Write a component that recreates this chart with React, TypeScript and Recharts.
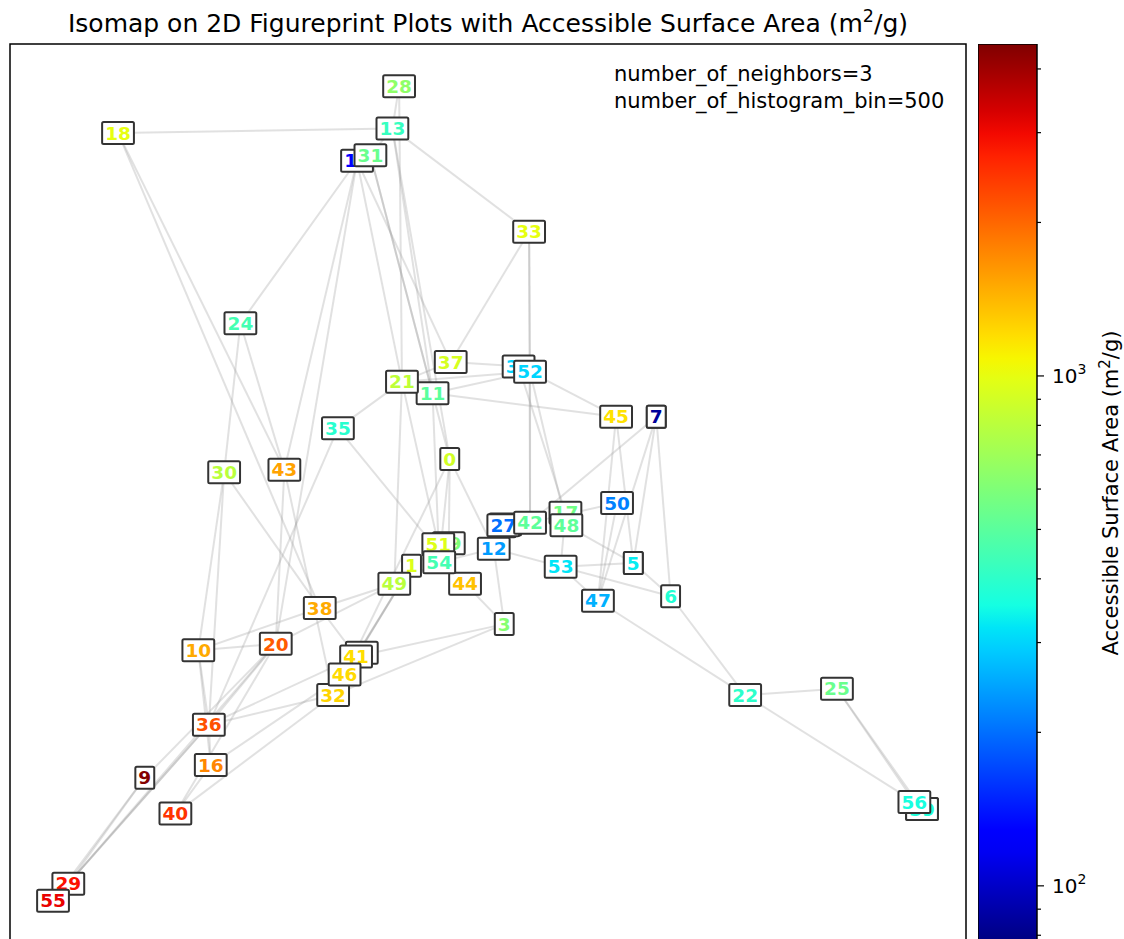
import React from "react";
import {
  ScatterChart,
  Scatter,
  XAxis,
  YAxis,
  ReferenceArea,
  ComposedChart,
  Bar,
} from "recharts";

// Isomap embedding coordinates, indexed by structure id (0..56)
const isoX = [
  46.0, 42.0, 67.6, 51.7, 65.2, 65.2, 69.1, 67.6, 51.9, 14.1, 19.7, 44.2, 50.6, 40.0, 36.3,
  51.8, 21.0, 58.1, 11.3, 45.9, 27.8, 41.0, 76.9, 36.8, 24.1, 86.5, 95.4, 51.6, 40.7, 6.1,
  22.4, 37.7, 33.8, 54.3, 53.2, 34.3, 20.8, 46.1, 32.4, 95.4, 17.3, 36.2, 54.4, 28.7, 47.6,
  63.4, 35.0, 61.5, 58.2, 40.2, 63.5, 44.8, 54.4, 57.6, 44.9, 4.5, 94.6,
];
const isoY = [
  53.8, 41.9, 58.5, 35.4, 42.2, 42.2, 38.5, 58.5, 46.3, 18.3, 32.5, 61.1, 43.8, 90.6, 87.0,
  46.5, 19.7, 47.8, 90.1, 44.4, 33.2, 62.4, 27.5, 32.2, 68.9, 28.2, 14.8, 46.4, 95.3, 6.5,
  52.3, 87.6, 27.5, 79.1, 64.1, 57.2, 24.2, 64.6, 37.2, 14.8, 14.3, 31.8, 46.7, 52.6, 39.9,
  58.5, 29.8, 38.0, 46.4, 39.9, 48.9, 44.3, 63.5, 41.8, 42.3, 4.6, 15.6,
];
// Accessible surface area (m2/g) per structure
const surfaceArea = [
  900, 950, 90, 620, 330, 330, 380, 85, 230, 4400, 1500, 500, 240, 420, 127,
  260, 1750, 560, 1000, 600, 2100, 820, 400, 1250, 450, 540, 340, 200, 650, 2900,
  800, 540, 1250, 1000, 300, 390, 2200, 920, 1500, 370, 2500, 1200, 510, 1550, 1350,
  1180, 1220, 260, 510, 800, 215, 960, 300, 320, 450, 3100, 360,
];

// neighbour graph edges (pairs of structure ids)
const edges: [number, number][] = [
  [18, 13], [18, 43], [18, 38], [28, 13], [28, 21], [13, 31], [13, 33], [13, 11], [13, 0],
  [14, 24], [14, 43], [14, 20], [14, 21], [14, 37], [31, 0], [31, 11], [33, 52], [33, 42],
  [33, 37], [24, 30], [24, 43], [37, 34], [37, 21], [21, 52], [21, 35], [21, 49], [21, 51],
  [11, 45], [11, 52], [11, 54], [52, 45], [52, 48], [52, 42], [34, 17], [45, 47], [45, 5],
  [7, 42], [7, 47], [7, 6], [35, 44], [35, 36], [0, 19], [0, 54], [0, 12], [0, 46],
  [30, 10], [30, 36], [30, 38], [43, 20], [43, 32], [50, 47], [50, 42], [27, 42], [42, 12],
  [12, 54], [12, 3], [12, 6], [48, 5], [17, 53], [1, 41], [1, 32], [1, 46], [1, 19],
  [49, 20], [49, 38], [54, 44], [54, 49], [53, 47], [53, 5], [5, 6], [6, 22], [47, 22],
  [22, 25], [22, 56], [25, 56], [25, 26], [44, 3], [3, 41], [3, 32], [38, 10], [38, 41],
  [10, 20], [10, 36], [10, 16], [20, 36], [20, 9], [20, 29], [20, 40], [41, 36], [46, 16],
  [32, 40], [32, 36], [36, 29], [36, 55], [9, 55], [9, 29], [40, 16], [16, 36], [56, 39],
  [4, 2], [8, 15], [26, 39],
];

const surfaceMin = 77.6;
const surfaceMax = 4477;
const colorbarTicks = [80, 90, 100, 200, 300, 400, 500, 600, 700, 800, 900, 1000, 2000, 3000, 4000];
const majorTicks: Record<number, string> = { 100: "2", 1000: "3" };

const FONT = "DejaVu Sans, sans-serif";

// matplotlib "jet" colormap
const jetRed = [[0, 0], [0.35, 0], [0.66, 1], [0.89, 1], [1, 0.5]];
const jetGreen = [[0, 0], [0.125, 0], [0.375, 1], [0.64, 1], [0.91, 0], [1, 0]];
const jetBlue = [[0, 0.5], [0.11, 1], [0.34, 1], [0.65, 0], [1, 0]];

const interp = (pts: number[][], t: number) => {
  for (let i = 1; i < pts.length; i++) {
    if (t <= pts[i][0]) {
      const [x0, y0] = pts[i - 1];
      const [x1, y1] = pts[i];
      return y0 + ((t - x0) / (x1 - x0)) * (y1 - y0);
    }
  }
  return pts[pts.length - 1][1];
};

const jet = (t: number) => {
  const c = Math.max(0, Math.min(1, t));
  const r = Math.round(interp(jetRed, c) * 255);
  const g = Math.round(interp(jetGreen, c) * 255);
  const b = Math.round(interp(jetBlue, c) * 255);
  return `rgb(${r},${g},${b})`;
};

const logMin = Math.log10(surfaceMin);
const logMax = Math.log10(surfaceMax);
const areaColor = (v: number) => jet((Math.log10(v) - logMin) / (logMax - logMin));

const nodes = isoX.map((x, id) => ({ id, x, y: isoY[id], asa: surfaceArea[id] }));

// id label in a white box, coloured by surface area
const LabelBox = (props: any) => {
  const { cx, cy, payload } = props;
  if (cx == null || cy == null) return <g />;
  const text = String(payload.id);
  const w = text.length * 12.9 + 6;
  const h = 22;
  return (
    <g>
      <rect
        x={cx - w / 2}
        y={cy - h / 2}
        width={w}
        height={h}
        rx={1.5}
        fill="#fff"
        stroke="#333"
        strokeWidth={2}
      />
      <text
        x={cx}
        y={cy + 6.7}
        textAnchor="middle"
        fontFamily={FONT}
        fontWeight="bold"
        fontSize={18.5}
        fill={areaColor(payload.asa)}
      >
        {text}
      </text>
    </g>
  );
};

const ColorbarTick = (props: any) => {
  const { x, y, payload } = props;
  const exp = majorTicks[payload.value];
  return (
    <g>
      <line x1={x} x2={x + (exp ? 7 : 4)} y1={y} y2={y} stroke="#000" strokeWidth={1.2} />
      {exp && (
        <text x={x + 15} y={y + 7.5} fontFamily={FONT} fontSize={20} fill="#000">
          10
          <tspan dy={-9} fontSize={14}>
            {exp}
          </tspan>
        </text>
      )}
    </g>
  );
};

const colorbarData = [{ name: "asa", range: [surfaceMin, surfaceMax] }];

export default function App() {
  const stops = Array.from({ length: 41 }, (_, i) => i / 40);
  return (
    <div style={{ position: "absolute", left: 0, top: 0, width: 1124, height: 960 }}>
      <svg width={0} height={0} style={{ position: "absolute" }}>
        <defs>
          <linearGradient id="jetBar" x1="0" y1="1" x2="0" y2="0">
            {stops.map((s) => (
              <stop key={s} offset={s} stopColor={jet(s)} />
            ))}
          </linearGradient>
        </defs>
      </svg>

      <div style={{ position: "absolute", left: 0, top: 0 }}>
        <ScatterChart
          width={980}
          height={960}
          margin={{ top: 44, right: 14, bottom: 18, left: 10 }}
        >
          <XAxis type="number" dataKey="x" domain={[0, 100]} hide />
          <YAxis type="number" dataKey="y" domain={[0, 100]} hide />
          {edges.map(([a, b], i) => (
            <Scatter
              key={`e${i}`}
              data={[nodes[a], nodes[b]]}
              line={{ stroke: "#9a9a9a", strokeOpacity: 0.3, strokeWidth: 2 }}
              shape={() => <g />}
              isAnimationActive={false}
            />
          ))}
          <Scatter data={nodes} shape={LabelBox} isAnimationActive={false} />
          <ReferenceArea
            x1={0}
            x2={100}
            y1={0}
            y2={100}
            fill="none"
            stroke="#000"
            strokeWidth={1.5}
          />
        </ScatterChart>
      </div>

      <div style={{ position: "absolute", left: 978, top: 0 }}>
        <ComposedChart
          width={146}
          height={960}
          data={colorbarData}
          barCategoryGap={0}
          margin={{ top: 44, right: 7, bottom: 18, left: 0 }}
        >
          <XAxis type="category" dataKey="name" hide />
          <YAxis
            type="number"
            scale="log"
            orientation="right"
            domain={[surfaceMin, surfaceMax]}
            ticks={colorbarTicks}
            interval={0}
            width={80}
            axisLine={false}
            tickLine={false}
            tickSize={0}
            tickMargin={0}
            tick={ColorbarTick}
            allowDataOverflow
          />
          <Bar
            dataKey="range"
            fill="url(#jetBar)"
            stroke="#000"
            strokeWidth={1.5}
            isAnimationActive={false}
          />
        </ComposedChart>
      </div>

      <svg
        width={1124}
        height={960}
        style={{ position: "absolute", left: 0, top: 0, pointerEvents: "none" }}
      >
        <text x={488} y={32} textAnchor="middle" fontFamily={FONT} fontSize={25} fill="#000">
          Isomap on 2D Figureprint Plots with Accessible Surface Area (m
          <tspan dy={-10} fontSize={17.5}>
            2
          </tspan>
          <tspan dy={10}>/g)</tspan>
        </text>
        <text x={614} y={81} fontFamily={FONT} fontSize={21} fill="#000">
          number_of_neighbors=3
        </text>
        <text x={614} y={108} fontFamily={FONT} fontSize={21} fill="#000">
          number_of_histogram_bin=500
        </text>
        <text
          x={1118}
          y={493}
          transform="rotate(-90, 1118, 493)"
          textAnchor="middle"
          fontFamily={FONT}
          fontSize={21}
          fill="#000"
        >
          Accessible Surface Area (m
          <tspan dy={-8} fontSize={15}>
            2
          </tspan>
          <tspan dy={8}>/g)</tspan>
        </text>
      </svg>
    </div>
  );
}
